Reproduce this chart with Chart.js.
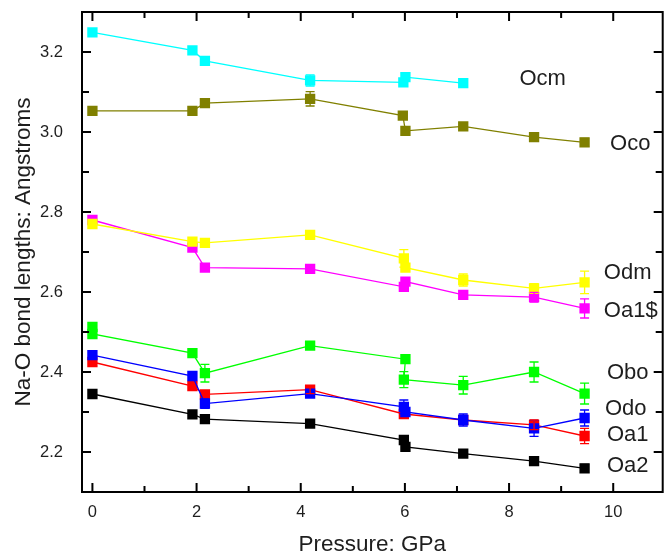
<!DOCTYPE html>
<html>
<head>
<meta charset="utf-8">
<script src="https://cdn.jsdelivr.net/npm/chart.js@4.4.0/dist/chart.umd.min.js"></script>
<style>
  html, body { margin: 0; padding: 0; background: #fff; }
  canvas { display: block; }
</style>
</head>
<body>
<canvas id="bonds" width="670" height="558"></canvas>
<script>
// Na-O bond lengths (Angstroms) against pressure (GPa)
const ocmP = [0, 1.92, 2.16, 4.18, 5.97, 6.01, 7.12];
const ocmR = [3.249, 3.204, 3.178, 3.129, 3.124, 3.137, 3.122];
const ocmErr = [0, 0, 0, 0.014, 0, 0.008, 0];

const ocoP = [0, 1.92, 2.16, 4.18, 5.96, 6.01, 7.12, 8.48, 9.45];
const ocoR = [3.053, 3.053, 3.072, 3.083, 3.041, 3.003, 3.014, 2.987, 2.974];
const ocoErr = [0, 0, 0, 0.018, 0, 0, 0, 0, 0.01];

const odmP = [0, 1.92, 2.16, 4.18, 5.98, 6.01, 7.12, 8.48, 9.45];
const odmR = [2.77, 2.726, 2.723, 2.743, 2.684, 2.661, 2.630, 2.609, 2.624];
const odmErr = [0.01, 0, 0.01, 0, 0.022, 0, 0.015, 0.012, 0.028];

const oa1sP = [0, 1.92, 2.16, 4.18, 5.98, 6.01, 7.12, 8.48, 9.45];
const oa1sR = [2.78, 2.711, 2.661, 2.658, 2.613, 2.626, 2.593, 2.587, 2.559];
const oa1sErr = [0, 0, 0, 0, 0.01, 0, 0.008, 0.012, 0.024];

const oboP = [0, 0, 1.92, 2.16, 4.18, 6.01, 5.98, 7.12, 8.48, 9.45];
const oboR = [2.513, 2.495, 2.447, 2.397, 2.466, 2.432, 2.381, 2.367, 2.400, 2.346];
const oboErr = [0, 0, 0, 0.022, 0, 0, 0.02, 0.022, 0.025, 0.026];

const odoP = [0, 1.92, 2.16, 4.18, 5.98, 6.01, 7.12, 8.48, 9.45];
const odoR = [2.442, 2.390, 2.321, 2.346, 2.313, 2.300, 2.280, 2.259, 2.285];
const odoErr = [0, 0, 0.012, 0, 0.017, 0, 0.015, 0.02, 0.02];

const oa1P = [0, 1.92, 2.16, 4.18, 5.98, 7.12, 8.48, 9.45];
const oa1R = [2.425, 2.365, 2.344, 2.356, 2.295, 2.280, 2.268, 2.240];
const oa1Err = [0, 0, 0, 0.01, 0, 0, 0.012, 0.019];

const oa2P = [0, 1.92, 2.16, 4.18, 5.98, 6.01, 7.12, 8.48, 9.45];
const oa2R = [2.345, 2.294, 2.282, 2.271, 2.230, 2.213, 2.196, 2.177, 2.159];
const oa2Err = [0, 0, 0, 0, 0.008, 0, 0, 0, 0.01];

const seriesNames = ['Ocm', 'Oco', 'Odm', 'Oa1$', 'Obo', 'Odo', 'Oa1', 'Oa2'];
const seriesColors = ['#00ffff', '#808000', '#ffff00', '#ff00ff', '#00ff00', '#0000ff', '#ff0000', '#000000'];
// where each series name sits, in axis units (pressure, length)
const labelP = [8.2, 9.94, 9.82, 9.82, 9.88, 9.84, 9.88, 9.88];
const labelR = [3.133, 2.970, 2.648, 2.552, 2.397, 2.307, 2.242, 2.164];

const xTicks = [0, 2, 4, 6, 8, 10];
const xMinor = [1, 3, 5, 7, 9];
const yTicks = [2.2, 2.4, 2.6, 2.8, 3.0, 3.2];
const yMinor = [2.3, 2.5, 2.7, 2.9, 3.1];

const textColor = '#1e1e1e';
const fontFamily = 'Arial, "Liberation Sans", sans-serif';

const allP = [ocmP, ocoP, odmP, oa1sP, oboP, odoP, oa1P, oa2P];
const allR = [ocmR, ocoR, odmR, oa1sR, oboR, odoR, oa1R, oa2R];
const allErr = [ocmErr, ocoErr, odmErr, oa1sErr, oboErr, odoErr, oa1Err, oa2Err];

const datasets = seriesNames.map((name, k) => ({
  label: name,
  data: allP[k].map((p, i) => ({ x: p, y: allR[k][i] })),
  errors: allErr[k],
  borderColor: seriesColors[k],
  backgroundColor: seriesColors[k],
  borderWidth: 1.3,
  pointStyle: 'rect',
  pointRadius: 7.3,
  pointBorderWidth: 0,
  pointHoverRadius: 7.3,
  tension: 0
}));

function drawErrorBars(chart) {
  const { ctx } = chart;
  const y = chart.scales.y;
  chart.data.datasets.forEach((ds, k) => {
    const meta = chart.getDatasetMeta(k);
    ctx.save();
    ctx.strokeStyle = ds.borderColor;
    ctx.lineWidth = 1.3;
    ds.data.forEach((pt, i) => {
      const e = ds.errors[i];
      if (!e) return;
      const px = meta.data[i].x;
      const top = y.getPixelForValue(pt.y + e);
      const bot = y.getPixelForValue(pt.y - e);
      ctx.beginPath();
      ctx.moveTo(px, top); ctx.lineTo(px, bot);
      ctx.moveTo(px - 4.5, top); ctx.lineTo(px + 4.5, top);
      ctx.moveTo(px - 4.5, bot); ctx.lineTo(px + 4.5, bot);
      ctx.stroke();
    });
    ctx.restore();
  });
}

// closed box with ticks pointing inward on all four sides
function drawBox(chart) {
  const { ctx, chartArea } = chart;
  const x = chart.scales.x;
  const y = chart.scales.y;
  const { left, right, top, bottom } = chartArea;
  ctx.save();
  ctx.strokeStyle = '#000';
  ctx.lineWidth = 2;
  ctx.strokeRect(left, top, right - left, bottom - top);
  ctx.beginPath();
  const xt = (v, len) => {
    const px = x.getPixelForValue(v);
    ctx.moveTo(px, bottom); ctx.lineTo(px, bottom - len);
    ctx.moveTo(px, top); ctx.lineTo(px, top + len);
  };
  const yt = (v, len) => {
    const py = y.getPixelForValue(v);
    ctx.moveTo(left, py); ctx.lineTo(left + len, py);
    ctx.moveTo(right, py); ctx.lineTo(right - len, py);
  };
  xTicks.forEach(v => xt(v, 9));
  xMinor.forEach(v => xt(v, 6));
  yTicks.forEach(v => yt(v, 9));
  yMinor.forEach(v => yt(v, 7));
  ctx.stroke();
  ctx.restore();
}

function drawSeriesNames(chart) {
  const { ctx } = chart;
  const x = chart.scales.x;
  const y = chart.scales.y;
  ctx.save();
  ctx.fillStyle = textColor;
  ctx.font = '22px ' + fontFamily;
  ctx.textAlign = 'left';
  ctx.textBaseline = 'middle';
  seriesNames.forEach((name, k) => {
    ctx.fillText(name, x.getPixelForValue(labelP[k]), y.getPixelForValue(labelR[k]));
  });
  ctx.restore();
}

const decorations = {
  id: 'bondDecorations',
  afterDatasetsDraw(chart) {
    drawErrorBars(chart);
  },
  afterDraw(chart) {
    drawBox(chart);
    drawSeriesNames(chart);
  }
};

new Chart(document.getElementById('bonds'), {
  type: 'line',
  data: { datasets },
  options: {
    responsive: false,
    animation: false,
    devicePixelRatio: 1,
    layout: { padding: { left: 0, right: 1, top: 12, bottom: 0 } },
    plugins: { legend: { display: false }, tooltip: { enabled: false } },
    scales: {
      x: {
        type: 'linear',
        min: -0.2,
        max: 10.95,
        grid: { display: false, drawTicks: false, drawBorder: false },
        border: { display: false },
        afterBuildTicks: s => { s.ticks = xTicks.map(v => ({ value: v })); },
        afterFit: s => { s.height = 66; s.paddingLeft = 0; s.paddingRight = 0; },
        ticks: { color: textColor, font: { size: 16.5, family: fontFamily }, padding: 11, maxRotation: 0 },
        title: {
          display: true,
          text: 'Pressure: GPa',
          color: textColor,
          font: { size: 22.5, family: fontFamily },
          padding: { top: 0, bottom: 0 }
        }
      },
      y: {
        min: 2.1,
        max: 3.3,
        grid: { display: false, drawTicks: false, drawBorder: false },
        border: { display: false },
        afterBuildTicks: s => { s.ticks = yTicks.map(v => ({ value: v })); },
        afterFit: s => { s.width = 82; s.paddingTop = 0; s.paddingBottom = 0; },
        ticks: {
          color: textColor,
          font: { size: 16.5, family: fontFamily },
          padding: 19,
          callback: v => v.toFixed(1)
        },
        title: {
          display: true,
          text: 'Na-O bond lengths: Angstroms',
          color: textColor,
          font: { size: 22.5, family: fontFamily },
          padding: { top: 10, bottom: 0 }
        }
      }
    }
  },
  plugins: [decorations]
});
</script>
</body>
</html>
